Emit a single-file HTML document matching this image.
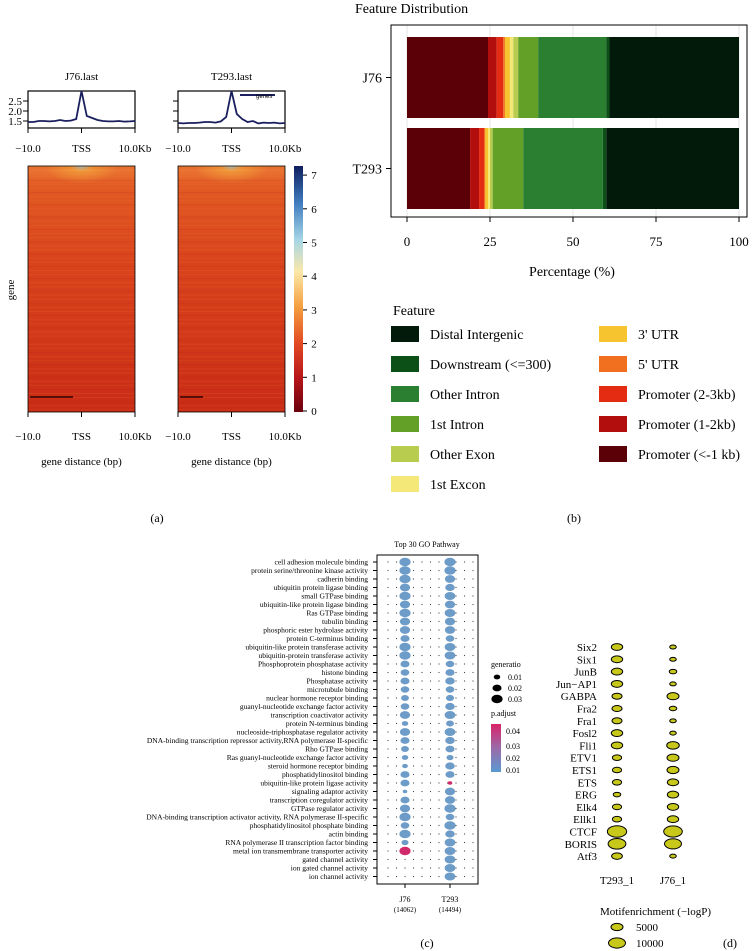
<!DOCTYPE html>
<html><head><meta charset="utf-8">
<style>
html,body{margin:0;padding:0;background:#fff;}
svg{display:block;font-family:"Liberation Serif",serif;}
</style></head>
<body>
<svg width="756" height="951" viewBox="0 0 756 951" xmlns="http://www.w3.org/2000/svg">
<defs>
<linearGradient id="hm" x1="0" y1="0" x2="0" y2="1">
<stop offset="0" stop-color="#ec7a34"/><stop offset="0.08" stop-color="#e25a24"/>
<stop offset="0.4" stop-color="#d9431c"/><stop offset="1" stop-color="#c92c16"/></linearGradient>
<radialGradient id="hmtop" cx="0.5" cy="0" r="0.35"><stop offset="0" stop-color="#9fd0d8" stop-opacity="0.9"/><stop offset="0.3" stop-color="#f5b040" stop-opacity="0.6"/><stop offset="1" stop-color="#f5b040" stop-opacity="0"/></radialGradient>
<linearGradient id="cb" x1="0" y1="1" x2="0" y2="0">
<stop offset="0" stop-color="#6a000e"/><stop offset="0.14" stop-color="#b8161a"/><stop offset="0.28" stop-color="#e24a22"/>
<stop offset="0.43" stop-color="#f5a040"/><stop offset="0.57" stop-color="#fbe8a8"/><stop offset="0.7" stop-color="#a6d6e6"/>
<stop offset="0.85" stop-color="#3f7cbf"/><stop offset="1" stop-color="#0e1e5e"/></linearGradient>
<linearGradient id="padj" x1="0" y1="0" x2="0" y2="1"><stop offset="0" stop-color="#d8246a"/><stop offset="0.5" stop-color="#9a6aa8"/><stop offset="1" stop-color="#5a9ad0"/></linearGradient>
</defs>
<g id="panelA"></g>
<g id="panelB"></g>
<g id="panelC"></g>
<g id="panelD"></g>
</svg>
<script>
// ---------- data ----------
const profileBins = [-10,-9,-8,-7,-6,-5,-4,-3,-2,-1,0,1,2,3,4,5,6,7,8,9,10];
const profileJ76 = [1.45,1.45,1.5,1.5,1.48,1.5,1.55,1.5,1.52,1.6,3.0,1.75,1.65,1.55,1.5,1.48,1.48,1.5,1.47,1.48,1.5];
const profileT293 = [1.4,1.38,1.4,1.4,1.42,1.45,1.45,1.42,1.48,1.7,3.0,1.85,1.6,1.45,1.5,1.38,1.42,1.4,1.42,1.38,1.4];
const colorbarTicks = [0,1,2,3,4,5,6,7];

const featureNames = ["Promoter (<-1 kb)","Promoter (1-2kb)","Promoter (2-3kb)","5' UTR","3' UTR","1st Excon","Other Exon","1st Intron","Other Intron","Downstream (<=300)","Distal Intergenic"];
const featureColors = ["#5c0008","#b20e0e","#e42c12","#f07020","#f6c42e","#f4e878","#b8cc50","#62a028","#2a8030","#0c5018","#021a0a"];
const samples = ["J76","T293"];
const pctJ76 = [24.4,2.6,2.0,0.5,1.5,1.0,1.5,6.0,20.5,1.0,39.0];
const pctT293 = [19.0,2.7,1.5,0.4,0.8,0.6,0.8,9.2,24.0,1.0,40.0];
const pctTicks = [0,25,50,75,100];

const goTerms = ["cell adhesion molecule binding","protein serine/threonine kinase activity","cadherin binding","ubiquitin protein ligase binding","small GTPase binding","ubiquitin-like protein ligase binding","Ras GTPase binding","tubulin binding","phosphoric ester hydrolase activity","protein C-terminus binding","ubiquitin-like protein transferase activity","ubiquitin-protein transferase activity","Phosphoprotein phosphatase activity","histone binding","Phosphatase activity","microtubule binding","nuclear hormone receptor binding","guanyl-nucleotide exchange factor activity","transcription coactivator activity","protein N-terminus binding","nucleoside-triphosphatase regulator activity","DNA-binding transcription repressor activity,RNA polymerase II-specific","Rho GTPase binding","Ras guanyl-nucleotide exchange factor activity","steroid hormone receptor binding","phosphatidylinositol binding","ubiquitin-like protein ligase activity","signaling adaptor activity","transcription coregulator activity","GTPase regulator activity","DNA-binding transcription activator activity, RNA polymerase II-specific","phosphatidylinositol phosphate binding","actin binding","RNA polymerase II transcription factor binding","metal ion transmembrane transporter activity","gated channel activity","ion gated channel activity","ion channel activity"];
const goRatioJ76 = [.03,.03,.03,.025,.03,.025,.03,.025,.025,.02,.03,.03,.02,.018,.02,.018,.015,.018,.025,.01,.025,.02,.015,.01,.008,.02,.02,.005,.02,.025,.03,.018,.03,.012,.03,0,0,0];
const goRatioT293 = [.03,.03,.025,.022,.028,.025,.028,.025,.025,.018,.028,.028,.018,.02,.022,.018,.016,.022,.028,.015,.028,.022,.02,.012,.022,.02,.005,.025,.025,.03,.018,.03,.022,.028,.028,.028,.028,.028];
const goPadjJ76 = [.01,.01,.01,.01,.01,.01,.01,.01,.01,.01,.01,.01,.01,.01,.01,.01,.01,.01,.01,.01,.01,.01,.01,.01,.01,.01,.01,.01,.01,.01,.01,.01,.01,.01,.045,.01,.01,.01];
const goPadjT293 = [.01,.01,.01,.01,.01,.01,.01,.01,.01,.01,.01,.01,.01,.01,.01,.01,.01,.01,.01,.01,.01,.01,.01,.01,.01,.01,.045,.01,.01,.01,.01,.01,.01,.01,.01,.01,.01,.01];
const goGroups = ["J76","T293"];
const goCounts = ["(14062)","(14494)"];

const motifs = ["Six2","Six1","JunB","Jun\u2212AP1","GABPA","Fra2","Fra1","Fosl2","Fli1","ETV1","ETS1","ETS","ERG","Elk4","Ellk1","CTCF","BORIS","Atf3"];
const motifT293 = [4500,4500,4500,4500,3500,3500,3500,4500,4500,3000,3000,3000,2000,3000,3000,13000,11000,4000];
const motifJ76 = [1500,1500,2000,1500,5000,2000,1500,1500,5500,5000,5000,4500,4500,4500,4500,12000,10000,1500];
const motifCols = ["T293_1","J76_1"];

// ---------- helpers ----------
const NS="http://www.w3.org/2000/svg";
function mk(parent,tag,attrs,txt){const e=document.createElementNS(NS,tag);for(const k in attrs)e.setAttribute(k,attrs[k]);if(txt!==undefined)e.textContent=txt;parent.appendChild(e);return e;}

// ---------- Panel A ----------
const A=document.getElementById('panelA');
const heatX=[28,178], heatW=107;
const profY=v=>121-(v-1.5)*20;
const binX=(x0,b)=>x0+(b+10)/20*heatW;
["J76.last","T293.last"].forEach((name,i)=>{
  const x0=heatX[i];
  let t=mk(A,'text',{x:x0+heatW/2,y:80,'font-size':11,'text-anchor':'middle'},name);
  
  
  let box=mk(A,'rect',{x:x0,y:91,width:heatW,height:37,fill:'#fff',stroke:'#000','stroke-width':1.2});
  
  
  const vals=i===0?profileJ76:profileT293;
  const pts=profileBins.map((b,j)=>binX(x0,b).toFixed(1)+','+Math.max(91,profY(vals[j])).toFixed(1)).join(' ');
  let pl=mk(A,'polyline',{points:pts,fill:'none',stroke:'#1a1f5e','stroke-width':1.8});
  
  
  [101,111,121].forEach(y=>mk(A,'line',{x1:x0-5,x2:x0,y1:y,y2:y,stroke:'#000'}));
  [0,0.5,1].forEach(f=>mk(A,'line',{x1:x0+f*heatW,x2:x0+f*heatW,y1:128,y2:133,stroke:'#000'}));
  [["\u221210.0",0],["TSS",0.5],["10.0Kb",1]].forEach(([s,f])=>{
    const tt=mk(A,'text',{x:x0+f*heatW,y:152,'font-size':11,'text-anchor':'middle'},s);
    
    
    const tb=mk(A,'text',{x:x0+f*heatW,y:440,'font-size':11,'text-anchor':'middle'},s);
    
    
    mk(A,'line',{x1:x0+f*heatW,x2:x0+f*heatW,y1:412,y2:417,stroke:'#000'});
  });
  let hm=mk(A,'rect',{x:x0,y:166,width:heatW,height:246,fill:'url(#hm)'});
  
  
  mk(A,'rect',{x:x0,y:166,width:heatW,height:50,fill:'url(#hmtop)'});
  for(let k=0;k<60;k++){const yy=168+k*4.1;mk(A,'line',{x1:x0,x2:x0+heatW,y1:yy,y2:yy,stroke:(k%3?'#f07838':'#b82414'),'stroke-opacity':0.18,'stroke-width':1});}
  mk(A,'line',{x1:x0+2,x2:x0+(i?25:45),y1:397,y2:397,stroke:'#300','stroke-width':1.5});
  mk(A,'rect',{x:x0,y:166,width:heatW,height:246,fill:'none',stroke:'#000','stroke-width':0.8});
  const xl=mk(A,'text',{x:x0+heatW/2,y:465,'font-size':11,'text-anchor':'middle'},'gene distance (bp)');
  
  
});
[["2.5",101],["2.0",111],["1.5",121]].forEach(([s,y])=>{const t=mk(A,'text',{x:22,y:y+4,'font-size':11,'text-anchor':'end'},s);});
let lg=mk(A,'line',{x1:240,x2:275,y1:95,y2:95,stroke:'#1a1f5e','stroke-width':2});
let lgt=mk(A,'text',{x:256,y:98,'font-size':6,'font-family':'Liberation Sans, sans-serif'},'genes');


let gy=mk(A,'text',{x:14,y:290,'font-size':11,'text-anchor':'middle',transform:'rotate(-90 14 290)'},'gene');


let cbr=mk(A,'rect',{x:294,y:166,width:9,height:246,fill:'url(#cb)'});


const cbY=v=>411-v*33.7;
colorbarTicks.forEach(v=>{mk(A,'line',{x1:303,x2:307,y1:cbY(v),y2:cbY(v),stroke:'#000'});
  const t=mk(A,'text',{x:314,y:cbY(v)+4,'font-size':11,'text-anchor':'middle'},v);
  
  });
let la=mk(A,'text',{x:157,y:522,'font-size':12,'text-anchor':'middle'},'(a)');



// ---------- Panel B ----------
const B=document.getElementById('panelB');
const px=p=>407+p*3.32;
let bt=mk(B,'text',{x:355,y:13,'font-size':14},'Feature Distribution');


pctTicks.forEach(p=>{mk(B,'line',{x1:px(p),x2:px(p),y1:25,y2:217,stroke:'#e4e4e4'});
  mk(B,'line',{x1:px(p),x2:px(p),y1:217,y2:222,stroke:'#000'});
  const t=mk(B,'text',{x:px(p),y:246,'font-size':13,'text-anchor':'middle'},p);
  
  });
const barY=[37,128], barH=81;
[pctJ76,pctT293].forEach((arr,si)=>{
  let acc=0;
  arr.forEach((v,k)=>{
    const r=mk(B,'rect',{x:px(acc),y:barY[si],width:Math.max(0,px(acc+v)-px(acc)),height:barH,fill:featureColors[k]});
    
    
    acc+=v;});
  const yc=barY[si]+barH/2;
  mk(B,'line',{x1:386,x2:391,y1:yc,y2:yc,stroke:'#000'});
  const t=mk(B,'text',{x:382,y:yc+5,'font-size':14,'text-anchor':'end'},samples[si]);
  
  
});
mk(B,'rect',{x:391,y:25,width:356,height:192,fill:'none',stroke:'#000','stroke-width':1});
let bx=mk(B,'text',{x:572,y:276,'font-size':14,'text-anchor':'middle'},'Percentage (%)');


let lf=mk(B,'text',{x:393,y:315,'font-size':14},'Feature');


const legOrder=[[10,0,0],[9,0,1],[8,0,2],[7,0,3],[6,0,4],[5,0,5],[4,1,0],[3,1,1],[2,1,2],[1,1,3],[0,1,4]];
legOrder.forEach(([k,c,r])=>{
  const x=c?599:391, y=334+r*30;
  const sw=mk(B,'rect',{x:x,y:y-8,width:28,height:16,fill:featureColors[k]});
  
  
  const t=mk(B,'text',{x:x+39,y:y+5,'font-size':14},featureNames[k].replace('Promoter (<-1 kb)','Promoter (<-1 kb)'));
  
  
});
let lb=mk(B,'text',{x:574,y:522,'font-size':12,'text-anchor':'middle'},'(b)');



// ---------- Panel C ----------
const C=document.getElementById('panelC');
const rowY=i=>562+i*8.5;
const gx=[405,450];
const rScale=g=>g<=0?0:Math.sqrt(g/0.03)*5.6;
const padjColor=p=>p>0.03?'#d02a6a':'#6e9cc8';
let ct=mk(C,'text',{x:427,y:547,'font-size':8,'text-anchor':'middle'},'Top 30 GO Pathway');


mk(C,'rect',{x:377,y:555,width:101,height:329,fill:'#fff',stroke:'#000','stroke-width':1});
for(let i=0;i<goTerms.length;i++){
  const y=rowY(i);
  for(let xx=388;xx<476;xx+=8.5){mk(C,'circle',{cx:xx,cy:y,r:0.6,fill:'#444'});}
  mk(C,'line',{x1:373,x2:377,y1:y,y2:y,stroke:'#000'});
  const t=mk(C,'text',{x:368,y:y+2.5,'font-size':7.5,'text-anchor':'end'},goTerms[i]);
  
  
  [[goRatioJ76,goPadjJ76],[goRatioT293,goPadjT293]].forEach(([ra,pa],g)=>{
    const r=rScale(ra[i]);
    if(r>0){const e=mk(C,'ellipse',{cx:gx[g],cy:y,rx:r,ry:r*0.75,fill:padjColor(pa[i])});
      
      }
  });
}
goGroups.forEach((g,k)=>{mk(C,'line',{x1:gx[k],x2:gx[k],y1:884,y2:888,stroke:'#000'});
  const t=mk(C,'text',{x:gx[k],y:902,'font-size':8,'text-anchor':'middle'},g);
  
  
  const t2=mk(C,'text',{x:gx[k],y:912,'font-size':7,'text-anchor':'middle'},goCounts[k]);
  
  });
let gl=mk(C,'text',{x:491,y:667,'font-size':8},'generatio');


[0.01,0.02,0.03].forEach((v,k)=>{const y=677+k*11;
  mk(C,'ellipse',{cx:497,cy:y,rx:rScale(v),ry:rScale(v)*0.75,fill:'#000'});
  const t=mk(C,'text',{x:508,y:y+3,'font-size':8},v);
  
  });
let pl2=mk(C,'text',{x:491,y:716,'font-size':8},'p.adjust');


mk(C,'rect',{x:491,y:724,width:10,height:48,fill:'url(#padj)'});
[[0.04,731],[0.03,746],[0.02,758],[0.01,770]].forEach(([v,y])=>{const t=mk(C,'text',{x:506,y:y+3,'font-size':8},v);
  
  });
let lc=mk(C,'text',{x:427,y:947,'font-size':12,'text-anchor':'middle'},'(c)');



// ---------- Panel D ----------
const D=document.getElementById('panelD');
const mY=i=>647+i*12.3;
const mx=[617,673];
const mR=v=>6*Math.sqrt(v/5000);
motifs.forEach((m,i)=>{
  const t=mk(D,'text',{x:597,y:mY(i)+4,'font-size':11,'text-anchor':'end'},m);
  
  
  [motifT293,motifJ76].forEach((arr,c)=>{const r=mR(arr[i]);
    const e=mk(D,'ellipse',{cx:mx[c],cy:mY(i),rx:r,ry:r*0.6,fill:'#c8c81a',stroke:'#000','stroke-width':1});
    
    });
});
motifCols.forEach((s,c)=>{const t=mk(D,'text',{x:mx[c],y:884,'font-size':11,'text-anchor':'middle'},s);
  
  });
let mt=mk(D,'text',{x:600,y:915,'font-size':11},'Motifenrichment (\u2212logP)');


[[5000,927],[10000,943]].forEach(([v,y])=>{const r=mR(v);
  mk(D,'ellipse',{cx:617,cy:y,rx:r,ry:r*0.6,fill:'#c8c81a',stroke:'#000','stroke-width':1});
  const t=mk(D,'text',{x:636,y:y+4,'font-size':11},v);
  
  });
let ld=mk(D,'text',{x:730,y:947,'font-size':12,'text-anchor':'middle'},'(d)');


</script>
</body></html>
